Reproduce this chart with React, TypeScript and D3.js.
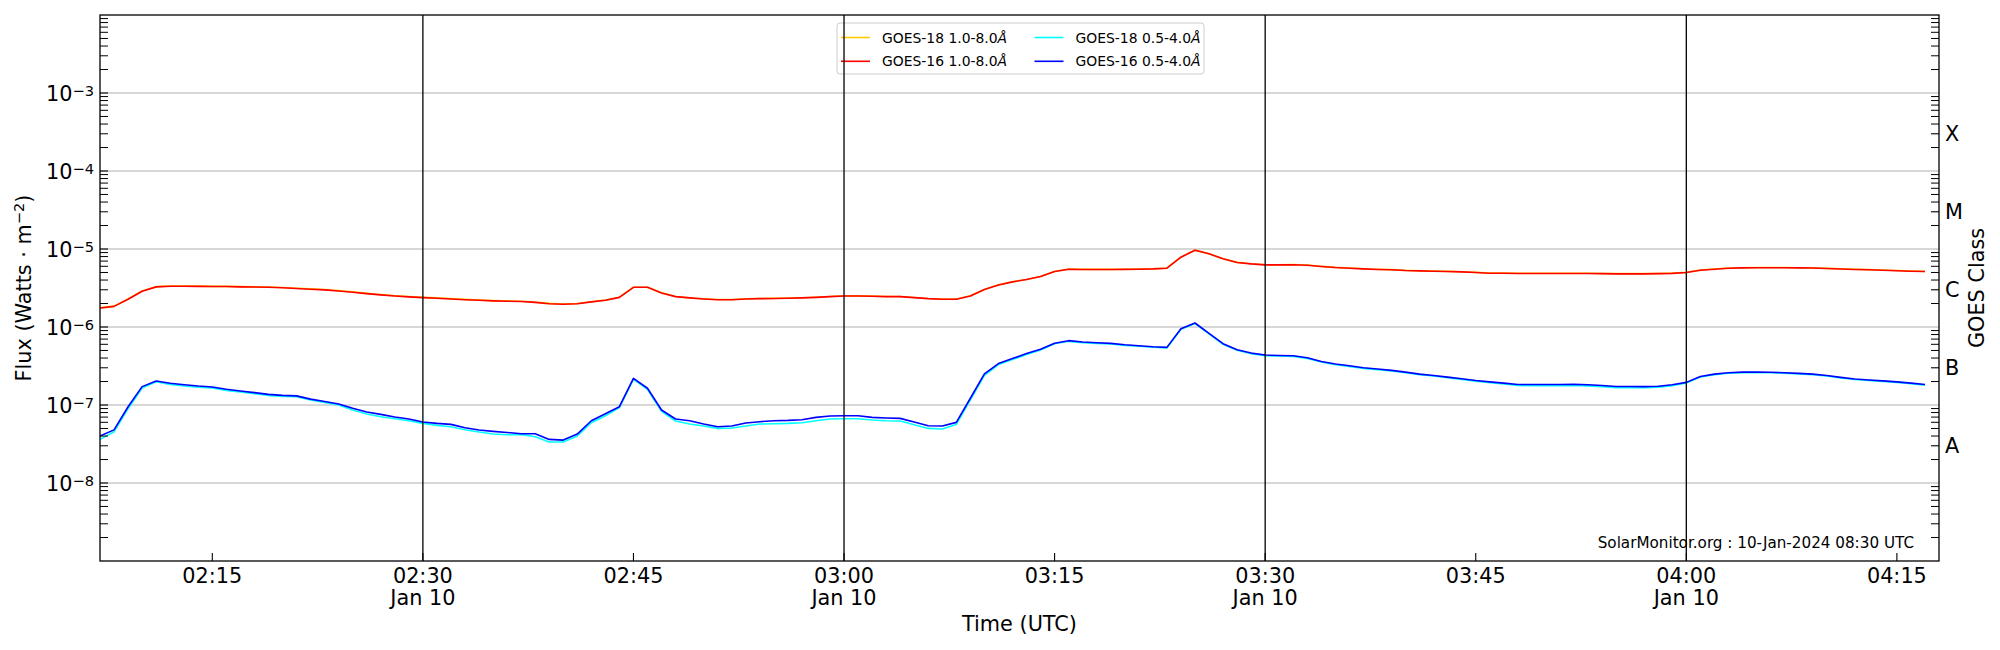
import * as d3 from "d3";

// GOES XRS one-minute fluxes (W m^-2), 02:07 .. 04:17 UTC, 10 Jan 2024
const START = "2024-01-10T02:07:00Z";
const END = "2024-01-10T04:18:00Z";

const goes16Long = [
  1.75e-6, 1.84e-6, 2.27e-6, 2.87e-6, 3.27e-6, 3.33e-6, 3.33e-6, 3.32e-6, 3.3e-6, 3.3e-6,
  3.27e-6, 3.25e-6, 3.23e-6, 3.19e-6, 3.11e-6, 3.05e-6, 2.99e-6, 2.9e-6, 2.79e-6, 2.68e-6,
  2.58e-6, 2.5e-6, 2.43e-6, 2.38e-6, 2.34e-6, 2.29e-6, 2.24e-6, 2.2e-6, 2.16e-6, 2.14e-6,
  2.12e-6, 2.07e-6, 1.99e-6, 1.96e-6, 1.99e-6, 2.1e-6, 2.2e-6, 2.4e-6, 3.23e-6, 3.23e-6,
  2.73e-6, 2.45e-6, 2.36e-6, 2.29e-6, 2.24e-6, 2.24e-6, 2.29e-6, 2.31e-6, 2.32e-6, 2.34e-6,
  2.36e-6, 2.4e-6, 2.45e-6, 2.5e-6, 2.5e-6, 2.48e-6, 2.45e-6, 2.45e-6, 2.38e-6, 2.31e-6,
  2.27e-6, 2.27e-6, 2.5e-6, 3.02e-6, 3.46e-6, 3.79e-6, 4.06e-6, 4.43e-6, 5.14e-6, 5.51e-6,
  5.46e-6, 5.46e-6, 5.46e-6, 5.48e-6, 5.51e-6, 5.56e-6, 5.67e-6, 7.85e-6, 9.66e-6, 8.67e-6,
  7.48e-6, 6.71e-6, 6.45e-6, 6.26e-6, 6.26e-6, 6.29e-6, 6.2e-6, 5.96e-6, 5.78e-6, 5.67e-6,
  5.56e-6, 5.46e-6, 5.41e-6, 5.29e-6, 5.24e-6, 5.19e-6, 5.14e-6, 5.09e-6, 4.99e-6, 4.89e-6,
  4.89e-6, 4.85e-6, 4.85e-6, 4.85e-6, 4.85e-6, 4.85e-6, 4.85e-6, 4.83e-6, 4.8e-6, 4.8e-6,
  4.8e-6, 4.83e-6, 4.87e-6, 4.99e-6, 5.35e-6, 5.51e-6, 5.67e-6, 5.73e-6, 5.75e-6, 5.75e-6,
  5.75e-6, 5.73e-6, 5.7e-6, 5.62e-6, 5.54e-6, 5.46e-6, 5.41e-6, 5.35e-6, 5.27e-6, 5.19e-6,
  5.14e-6,
];

const goes18Long = [
  1.76e-6, 1.85e-6, 2.29e-6, 2.89e-6, 3.29e-6, 3.35e-6, 3.35e-6, 3.34e-6, 3.32e-6, 3.32e-6,
  3.29e-6, 3.27e-6, 3.25e-6, 3.21e-6, 3.14e-6, 3.08e-6, 3.02e-6, 2.93e-6, 2.82e-6, 2.7e-6,
  2.6e-6, 2.52e-6, 2.45e-6, 2.4e-6, 2.36e-6, 2.31e-6, 2.26e-6, 2.22e-6, 2.18e-6, 2.16e-6,
  2.14e-6, 2.09e-6, 2.01e-6, 1.97e-6, 2e-6, 2.11e-6, 2.21e-6, 2.41e-6, 3.24e-6, 3.24e-6,
  2.74e-6, 2.46e-6, 2.37e-6, 2.3e-6, 2.25e-6, 2.25e-6, 2.3e-6, 2.32e-6, 2.33e-6, 2.35e-6,
  2.37e-6, 2.41e-6, 2.46e-6, 2.51e-6, 2.51e-6, 2.49e-6, 2.46e-6, 2.46e-6, 2.39e-6, 2.32e-6,
  2.28e-6, 2.28e-6, 2.51e-6, 3.03e-6, 3.47e-6, 3.8e-6, 4.07e-6, 4.44e-6, 5.15e-6, 5.53e-6,
  5.48e-6, 5.48e-6, 5.48e-6, 5.5e-6, 5.53e-6, 5.58e-6, 5.69e-6, 7.87e-6, 9.68e-6, 8.7e-6,
  7.51e-6, 6.74e-6, 6.48e-6, 6.29e-6, 6.29e-6, 6.32e-6, 6.23e-6, 5.99e-6, 5.81e-6, 5.7e-6,
  5.59e-6, 5.49e-6, 5.44e-6, 5.32e-6, 5.27e-6, 5.22e-6, 5.17e-6, 5.12e-6, 5.02e-6, 4.92e-6,
  4.92e-6, 4.88e-6, 4.88e-6, 4.88e-6, 4.88e-6, 4.88e-6, 4.88e-6, 4.86e-6, 4.83e-6, 4.83e-6,
  4.83e-6, 4.86e-6, 4.9e-6, 5.02e-6, 5.38e-6, 5.54e-6, 5.7e-6, 5.76e-6, 5.78e-6, 5.78e-6,
  5.78e-6, 5.76e-6, 5.73e-6, 5.65e-6, 5.57e-6, 5.49e-6, 5.44e-6, 5.38e-6, 5.3e-6, 5.22e-6,
  5.17e-6,
];

const goes16Short = [
  4.0e-8, 4.8e-8, 9.5e-8, 1.72e-7, 2.03e-7, 1.9e-7, 1.82e-7, 1.75e-7, 1.7e-7, 1.59e-7,
  1.51e-7, 1.44e-7, 1.37e-7, 1.33e-7, 1.31e-7, 1.19e-7, 1.11e-7, 1.03e-7, 9.06e-8, 8.13e-8,
  7.59e-8, 7.01e-8, 6.61e-8, 6.05e-8, 5.81e-8, 5.64e-8, 5.12e-8, 4.77e-8, 4.59e-8, 4.45e-8,
  4.28e-8, 4.28e-8, 3.62e-8, 3.55e-8, 4.24e-8, 6.29e-8, 7.74e-8, 9.52e-8, 2.2e-7, 1.64e-7,
  8.63e-8, 6.61e-8, 6.29e-8, 5.7e-8, 5.27e-8, 5.38e-8, 5.87e-8, 6.11e-8, 6.29e-8, 6.35e-8,
  6.48e-8, 6.94e-8, 7.22e-8, 7.29e-8, 7.29e-8, 6.94e-8, 6.81e-8, 6.74e-8, 6.05e-8, 5.43e-8,
  5.38e-8, 5.99e-8, 1.22e-7, 2.5e-7, 3.4e-7, 3.94e-7, 4.57e-7, 5.19e-7, 6.2e-7, 6.68e-7,
  6.42e-7, 6.29e-7, 6.17e-7, 5.93e-7, 5.76e-7, 5.59e-7, 5.48e-7, 9.52e-7, 1.125e-6, 8.29e-7,
  6.11e-7, 5.11e-7, 4.63e-7, 4.37e-7, 4.32e-7, 4.28e-7, 4.04e-7, 3.62e-7, 3.35e-7, 3.19e-7,
  3.0e-7, 2.89e-7, 2.78e-7, 2.64e-7, 2.49e-7, 2.39e-7, 2.28e-7, 2.17e-7, 2.06e-7, 1.98e-7,
  1.91e-7, 1.83e-7, 1.83e-7, 1.83e-7, 1.83e-7, 1.84e-7, 1.82e-7, 1.78e-7, 1.73e-7, 1.73e-7,
  1.72e-7, 1.74e-7, 1.82e-7, 1.95e-7, 2.32e-7, 2.49e-7, 2.59e-7, 2.64e-7, 2.65e-7, 2.63e-7,
  2.59e-7, 2.54e-7, 2.49e-7, 2.39e-7, 2.26e-7, 2.15e-7, 2.09e-7, 2.04e-7, 1.98e-7, 1.91e-7,
  1.83e-7,
];

const goes18Short = [
  3.62e-8, 4.54e-8, 8.97e-8, 1.65e-7, 1.99e-7, 1.84e-7, 1.75e-7, 1.69e-7, 1.65e-7, 1.54e-7,
  1.47e-7, 1.4e-7, 1.33e-7, 1.29e-7, 1.28e-7, 1.16e-7, 1.08e-7, 1.0e-7, 8.63e-8, 7.66e-8,
  7.08e-8, 6.67e-8, 6.29e-8, 5.81e-8, 5.48e-8, 5.27e-8, 4.82e-8, 4.5e-8, 4.24e-8, 4.16e-8,
  4.2e-8, 3.92e-8, 3.35e-8, 3.35e-8, 4.0e-8, 5.93e-8, 7.29e-8, 9.24e-8, 2.14e-7, 1.59e-7,
  8.29e-8, 6.23e-8, 5.7e-8, 5.38e-8, 5.01e-8, 5.06e-8, 5.38e-8, 5.7e-8, 5.76e-8, 5.81e-8,
  5.93e-8, 6.29e-8, 6.61e-8, 6.67e-8, 6.67e-8, 6.42e-8, 6.29e-8, 6.23e-8, 5.59e-8, 5.01e-8,
  4.92e-8, 5.64e-8, 1.16e-7, 2.4e-7, 3.3e-7, 3.82e-7, 4.45e-7, 5.08e-7, 6.1e-7, 6.55e-7,
  6.3e-7, 6.17e-7, 6.05e-7, 5.82e-7, 5.66e-7, 5.49e-7, 5.38e-7, 9.35e-7, 1.11e-6, 8.15e-7,
  6.0e-7, 5.02e-7, 4.55e-7, 4.28e-7, 4.24e-7, 4.2e-7, 3.96e-7, 3.55e-7, 3.29e-7, 3.13e-7,
  2.95e-7, 2.84e-7, 2.73e-7, 2.59e-7, 2.45e-7, 2.35e-7, 2.24e-7, 2.13e-7, 2.02e-7, 1.93e-7,
  1.86e-7, 1.78e-7, 1.77e-7, 1.77e-7, 1.77e-7, 1.78e-7, 1.76e-7, 1.72e-7, 1.67e-7, 1.67e-7,
  1.67e-7, 1.69e-7, 1.77e-7, 1.91e-7, 2.28e-7, 2.45e-7, 2.55e-7, 2.6e-7, 2.61e-7, 2.59e-7,
  2.56e-7, 2.5e-7, 2.45e-7, 2.35e-7, 2.22e-7, 2.12e-7, 2.06e-7, 2.01e-7, 1.95e-7, 1.88e-7,
  1.8e-7,
];

const yTickExponents = [-8, -7, -6, -5, -4, -3];
const goesClasses = ["A", "B", "C", "M", "X"];
const goesClassFlux = [3e-8, 3e-7, 3e-6, 3e-5, 3e-4];
const dayLineTimes = ["02:30", "03:00", "03:30", "04:00"];
const dayLabel = "Jan 10";

const series = [
  { label: "GOES-18 1.0-8.0", color: "#ffcc00", values: goes18Long },
  { label: "GOES-16 1.0-8.0", color: "#ff0000", values: goes16Long },
  { label: "GOES-18 0.5-4.0", color: "#00ffff", values: goes18Short },
  { label: "GOES-16 0.5-4.0", color: "#0000ff", values: goes16Short },
];

const W = 2000;
const H = 650;
const M = { left: 100, right: 1939, top: 15, bottom: 561 };
const FONT = "'DejaVu Sans', sans-serif";
const BIG = 20.8;
const SUP = 14.6;
const SMALL = 13.9;
const TICK = 8;

export default function App() {
  const t0 = new Date(START);
  const x = d3.scaleUtc().domain([t0, new Date(END)]).range([M.left, M.right]);
  const y = d3.scaleLog().domain([1e-9, 1e-2]).range([M.bottom, M.top]);

  const times = goes16Long.map((_, i) => d3.utcMinute.offset(t0, i));
  const line = d3
    .line<number>()
    .x((_, i) => x(times[i]))
    .y((v) => y(v));

  // minor log ticks 2..9 x 10^k
  const minor: number[] = [];
  for (let k = -9; k < -2; k++) for (let m = 2; m <= 9; m++) minor.push(m * Math.pow(10, k));

  const xTicks = d3.utcMinute.every(15)!.range(x.domain()[0], x.domain()[1]);
  const fmt = d3.utcFormat("%H:%M");

  const legendX = 837;
  const legendY = 23;

  return (
    <div style={{ position: "absolute", left: 0, top: 0 }}>
      <svg width={W} height={H} style={{ display: "block", background: "#fff", fontFamily: FONT }}>
        <rect width={W} height={H} fill="#fff" />

        {/* grid */}
        {yTickExponents.map((e) => (
          <line key={e} x1={M.left} x2={M.right} y1={y(Math.pow(10, e))} y2={y(Math.pow(10, e))} stroke="#b0b0b0" strokeWidth={1.1} />
        ))}

        {/* data */}
        {series.map((s) => (
          <path key={s.label} d={line(s.values) ?? ""} fill="none" stroke={s.color} strokeWidth={1.6} strokeLinejoin="round" />
        ))}

        {/* legend */}
        <rect x={legendX} y={legendY} width={367} height={51} rx={3} fill="#fff" fillOpacity={0.8} stroke="#cccccc" strokeWidth={1} />
        {series.map((s, i) => {
          const col = Math.floor(i / 2);
          const row = i % 2;
          const lx = legendX + 4 + col * 193.5;
          const ly = legendY + 14.5 + row * 23.8;
          return (
            <g key={s.label}>
              <line x1={lx} x2={lx + 29} y1={ly} y2={ly} stroke={s.color} strokeWidth={1.6} />
              <text x={lx + 41} y={ly + 5} fontSize={SMALL} fill="#000">
                {s.label}
                <tspan fontStyle="italic">Å</tspan>
              </text>
            </g>
          );
        })}

        {/* vertical day lines */}
        {xTicks
          .filter((t) => dayLineTimes.includes(fmt(t)))
          .map((t) => (
            <line key={+t} x1={x(t)} x2={x(t)} y1={M.top} y2={M.bottom} stroke="#000" strokeWidth={1.3} />
          ))}

        {/* left ticks */}
        {minor.map((v) => (
          <line key={"lm" + v} x1={M.left} x2={M.left + TICK} y1={y(v)} y2={y(v)} stroke="#000" strokeWidth={1} />
        ))}
        {yTickExponents.map((e) => (
          <g key={"yl" + e}>
            <line x1={M.left} x2={M.left + TICK} y1={y(Math.pow(10, e))} y2={y(Math.pow(10, e))} stroke="#000" strokeWidth={1.1} />
            <text x={94} y={y(Math.pow(10, e)) + 8.4} textAnchor="end" fontSize={BIG} fill="#000">
              10
              <tspan fontSize={SUP} dy={-5.2}>
                {"\u2212" + Math.abs(e)}
              </tspan>
            </text>
          </g>
        ))}

        {/* right ticks: GOES class */}
        {minor
          .filter((v) => !goesClassFlux.some((c) => Math.abs(c - v) / c < 1e-6))
          .map((v) => (
            <line key={"rm" + v} x1={M.right} x2={M.right - TICK} y1={y(v)} y2={y(v)} stroke="#000" strokeWidth={1} />
          ))}
        {goesClasses.map((c, i) => (
          <g key={c}>
            <line x1={M.right} x2={M.right - TICK} y1={y(goesClassFlux[i])} y2={y(goesClassFlux[i])} stroke="#000" strokeWidth={1.1} />
            <text x={M.right + 6} y={y(goesClassFlux[i]) + 7.6} fontSize={BIG} fill="#000">
              {c}
            </text>
          </g>
        ))}

        {/* x ticks */}
        {xTicks.map((t) => (
          <g key={"xt" + +t}>
            <line x1={x(t)} x2={x(t)} y1={M.bottom} y2={M.bottom - TICK} stroke="#000" strokeWidth={1.1} />
            <text x={x(t)} y={582.5} textAnchor="middle" fontSize={BIG} fill="#000">
              {fmt(t)}
            </text>
            {dayLineTimes.includes(fmt(t)) && (
              <text x={x(t)} y={605} textAnchor="middle" fontSize={BIG} fill="#000">
                {dayLabel}
              </text>
            )}
          </g>
        ))}

        {/* frame */}
        <rect x={M.left} y={M.top} width={M.right - M.left} height={M.bottom - M.top} fill="none" stroke="#000" strokeWidth={1.3} />

        {/* labels */}
        <text x={(M.left + M.right) / 2} y={630.5} textAnchor="middle" fontSize={BIG} fill="#000">
          Time (UTC)
        </text>
        <text transform={`translate(31,${(M.top + M.bottom) / 2}) rotate(-90)`} textAnchor="middle" fontSize={BIG} fill="#000">
          Flux (Watts · m
          <tspan fontSize={SUP} dy={-7.5}>
            {"\u22122"}
          </tspan>
          <tspan dy={7.5}>)</tspan>
        </text>
        <text transform={`translate(1984,${(M.top + M.bottom) / 2}) rotate(-90)`} textAnchor="middle" fontSize={BIG} fill="#000">
          GOES Class
        </text>
        <text x={1914} y={548} textAnchor="end" fontSize={15.2} fill="#000">
          SolarMonitor.org : 10-Jan-2024 08:30 UTC
        </text>
      </svg>
    </div>
  );
}
